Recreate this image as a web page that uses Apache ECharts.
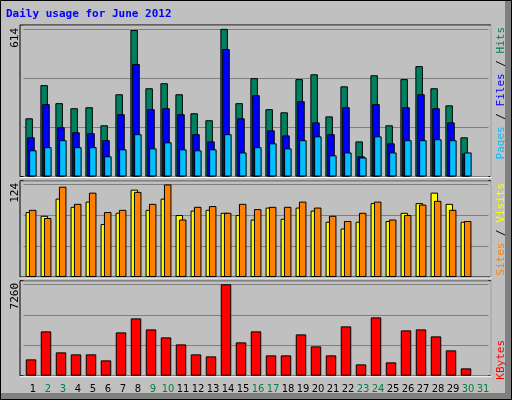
<!DOCTYPE html><html><head><meta charset="utf-8">
<script src="https://cdn.jsdelivr.net/npm/echarts@6/dist/echarts.min.js"></script>
<style>html,body{margin:0;padding:0;background:#c0c0c0}#c{width:512px;height:400px}</style></head><body><div id="c"></div>
<script>
const days=[];for(let i=1;i<=31;i++)days.push(String(i));
const weekend=['2','3','9','10','16','17','23','24','30','31'];
const hits=[242,380,305,284,288,213,342,609,367,388,342,263,234,614,305,409,280,267,405,425,250,375,146,421,213,405,459,367,296,163,null];
const files=[163,301,205,184,180,151,259,468,280,284,259,176,146,530,242,338,192,171,313,225,176,288,84,301,138,288,342,284,225,96,null];
const pages=[109,122,151,122,122,84,113,176,117,142,113,109,113,176,100,122,138,117,151,167,88,100,79,167,100,151,151,155,151,100,null];
const sites=[87,82,105,94,101,71,86,117,90,105,83,89,90,86,83,77,93,78,93,89,74,65,74,99,75,86,99,113,98,74,null];
const visits=[90,79,121,98,113,87,90,114,98,124,77,94,95,86,98,91,94,94,101,93,82,75,86,101,77,83,97,102,90,75,null];
const kbytes=[1297,3521,1853,1694,1694,1218,3441,4553,3679,3044,2488,1694,1535,7260,2647,3521,1615,1615,3282,2329,1615,3918,900,4632,1059,3600,3679,3123,2012,582,null];
const maxTop=614,maxMid=124,maxBot=7260;
const ch=echarts.init(document.getElementById('c'),null,{renderer:'canvas'});
const L=23.5,W=465;
const grids=[{left:L,width:W,top:25,height:151.5},{left:L,width:W,top:180.7,height:96.3},{left:L,width:W,top:280.7,height:95}];
function xa(i,show){return {type:'category',gridIndex:i,data:days,boundaryGap:true,axisLine:{show:false},axisTick:{show:false},
 axisLabel:{show:show,interval:0,margin:9,fontFamily:'DejaVu Sans',fontSize:10,padding:[0,0,0,4],
  color:(v)=>weekend.includes(v)?'#008040':'#000'}}}
function ya(i,max,top){return {type:'value',gridIndex:i,min:0,max:top,interval:max/3,axisLabel:{show:false},axisLine:{show:false},axisTick:{show:false},
 splitLine:{show:true,lineStyle:{color:'#808080',width:1}}}}
function bar(name,data,color,xi,gap,w){return {type:'bar',name,data,xAxisIndex:xi,yAxisIndex:xi,barWidth:w||7.5,barGap:gap,
 itemStyle:{color,borderColor:'#000',borderWidth:1},silent:true,animation:false}}
const frames=[];
grids.forEach(g=>{frames.push({type:'rect',shape:{x:20,y:g.top,width:471,height:g.height},style:{fill:'none',stroke:'#000',lineWidth:1},z:-1});
 frames.push({type:'polyline',shape:{points:[[491,g.top],[491,g.top+g.height+1],[20,g.top+g.height+1]]},style:{stroke:'#fff',lineWidth:1},z:10});});
function vt(x,y,rich,text){return {type:'text',x,y,rotation:Math.PI/2,style:{text,rich,fill:'#000',align:'right',verticalAlign:'middle',fontFamily:'DejaVu Sans Mono',fontSize:11}}}
ch.setOption({
 animation:false,backgroundColor:'#c0c0c0',
 grid:grids,
 xAxis:[xa(0,false),xa(1,false),xa(2,true)],
 yAxis:[ya(0,maxTop,630),ya(1,maxMid,129),ya(2,maxBot,7546)],
 series:[bar('Hits',hits,'#008060',0,'-75%'),bar('Files',files,'#0000ff',0,'-75%'),bar('Pages',pages,'#00c0ff',0,'-75%'),
  bar('Sites',sites,'#ffff00',1,'-55%'),bar('Visits',visits,'#ff8000',1,'-55%'),bar('KBytes',kbytes,'#ff0000',2,'-55%',10.5)],
 graphic:[
  {type:'rect',shape:{x:505,y:0,width:7,height:400},style:{fill:'#808080'},z:-2},
  {type:'rect',shape:{x:0,y:393,width:512,height:7},style:{fill:'#808080'},z:-2},
  {type:'rect',shape:{x:0.5,y:0.5,width:511,height:399},style:{fill:'none',stroke:'#000'},z:-1},
  {type:'text',x:6,y:9,style:{text:'Daily usage for June 2012',fill:'#0000ff',font:'bold 11px "DejaVu Sans Mono"'}},
  ...frames,
  vt(15,28,null,'614'),vt(15,183,null,'124'),vt(15,283,null,'7260'),
  vt(501,27,{a:{fill:'#00c0ff'},b:{fill:'#000'},c:{fill:'#0000ff'},d:{fill:'#008060'}},'{a|Pages}{b| / }{c|Files}{b| / }{d|Hits}'),
  vt(501,183,{a:{fill:'#ff8000'},b:{fill:'#000'},c:{fill:'#ffff00'}},'{a|Sites}{b| / }{c|Visits}'),
  vt(501,340,{a:{fill:'#ff0000'}},'{a|KBytes}')
 ]
});
</script></body></html>
